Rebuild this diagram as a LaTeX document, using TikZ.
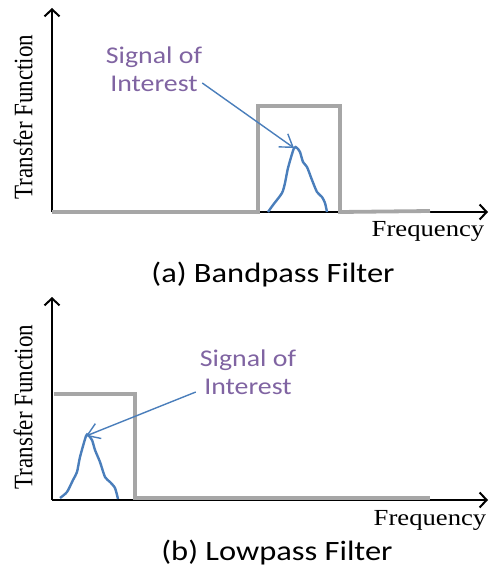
\documentclass[tikz,border=0pt]{standalone}
\usepackage{fontspec}
\setmainfont{Liberation Serif}
\newfontfamily\calfont{Carlito}
\usetikzlibrary{arrows.meta}
\definecolor{fGrey}{HTML}{A6A6A6}
\definecolor{fBlue}{HTML}{4A7EBB}
\definecolor{fPurple}{HTML}{8064A2}
\newcommand{\wide}[1]{\scalebox{1.16}[1]{#1}}

\begin{document}
\begin{tikzpicture}[x=1pt,y=-1pt,
  axis/.style={-{Straight Barb[length=7pt,width=15pt]}, line width=2pt, black},
  resp/.style={draw=fGrey, line width=3.8pt},
  sig/.style={draw=fBlue, line width=2.4pt},
  pointer/.style={-{Straight Barb[length=12pt,width=16pt]}, draw=fBlue, line width=1.4pt},
  soi/.style={text=fPurple, font=\calfont\fontsize{24}{28}\selectfont, align=center, inner sep=0pt},
  axlab/.style={font=\fontsize{23}{27}\selectfont, inner sep=0pt},
  capt/.style={font=\calfont\fontsize{28}{32}\selectfont, inner sep=0pt},
]
\useasboundingbox (0,0) rectangle (489,567);
% ---- (a) bandpass ----
\coordinate (oA) at (52,212);
\coordinate (pkA) at (294,148);
\draw[axis] (oA) -- (52,8);
\draw[axis] (oA) -- (488,212);
\draw[resp] (oA) -- (258,212) -- (258,106) -- (340,106) -- (340,212) -- (430,211);
\draw[sig] plot[smooth, tension=0.4] coordinates {(268,212) (273,205) (282,193) (285,183) (288,168) (pkA) (297,148) (300,152) (303,162) (307,167) (312,180) (317,192) (322,197) (325,203) (327,212)};
\node[soi] (soiA) at (154,69) {\wide{Signal of}\\\wide{Interest}};
\draw[pointer] ([yshift=-14pt]soiA.east) -- (pkA);
\node[axlab, rotate=90] (tfA) at (23,117) {\scalebox{1}[1.16]{Transfer Function}};
\node[axlab] (frA) at (428,231) {\wide{Frequency}};
\node[capt] (capA) at (273,275) {\wide{(a) Bandpass Filter}};
% ---- (b) lowpass ----
\coordinate (oB) at (52,500);
\coordinate (pkB) at (86,436);
\draw[axis] (oB) -- (52,297);
\draw[axis] (oB) -- (488,500);
\draw[resp] (54,394) -- (135,394) -- (135,498) -- (430,498);
\draw[sig] plot[smooth, tension=0.4] coordinates {(60,498) (67,492) (73,480) (77,472) (80,457) (pkB) (88,435) (92,440) (95,450) (100,462) (105,477) (110,482) (115,488) (118,499)};
\node[soi] (soiB) at (248,372) {\wide{Signal of}\\\wide{Interest}};
\draw[pointer] ([yshift=-20pt, xshift=-4pt]soiB.west) -- (pkB);
\node[axlab, rotate=90] (tfB) at (23,407) {\scalebox{1}[1.16]{Transfer Function}};
\node[axlab] (frB) at (430,520) {\wide{Frequency}};
\node[capt] (capB) at (277,553) {\wide{(b) Lowpass Filter}};
\end{tikzpicture}
\end{document}
